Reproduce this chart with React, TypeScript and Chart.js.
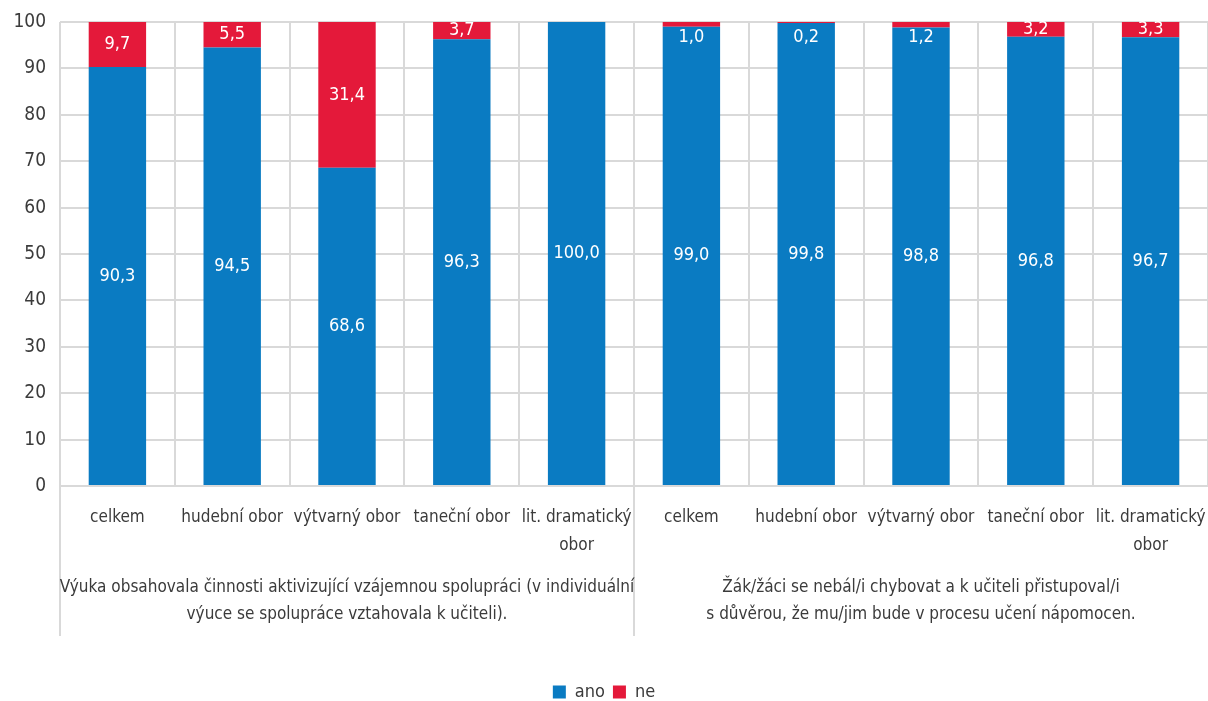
import React, { useEffect, useRef } from "react";
import { Chart, registerables } from "chart.js";

Chart.register(...registerables);

const categories: (string | string[])[] = [
  "celkem",
  "hudební obor",
  "výtvarný obor",
  "taneční obor",
  ["lit. dramatický", "obor"],
  "celkem",
  "hudební obor",
  "výtvarný obor",
  "taneční obor",
  ["lit. dramatický", "obor"],
];

const groupLabels: string[][] = [
  [
    "Výuka obsahovala činnosti aktivizující vzájemnou spolupráci (v individuální",
    "výuce se spolupráce vztahovala k učiteli).",
  ],
  [
    "Žák/žáci se nebál/i chybovat a k učiteli přistupoval/i",
    "s důvěrou, že mu/jim bude v procesu učení nápomocen.",
  ],
];

const anoValues = [90.3, 94.5, 68.6, 96.3, 100.0, 99.0, 99.8, 98.8, 96.8, 96.7];
const neValues = [9.7, 5.5, 31.4, 3.7, 0, 1.0, 0.2, 1.2, 3.2, 3.3];
const seriesNames = ["ano", "ne"];

const FONT = "'Liberation Sans Narrow', 'DejaVu Sans Condensed', 'Roboto Condensed', sans-serif";
const TEXT = "#3b3b3b";
const GRID = "#d9d9d9";
const BLUE = "#0a7bc2";
const RED = "#e4193a";

const fmt = (v: number) => v.toFixed(1).replace(".", ",");

const valueLabels = {
  id: "valueLabels",
  afterDatasetsDraw(chart: any) {
    const ctx = chart.ctx;
    ctx.save();
    ctx.font = `18px ${FONT}`;
    ctx.fillStyle = "#ffffff";
    ctx.textAlign = "center";
    ctx.textBaseline = "middle";
    chart.data.datasets.forEach((ds: any, di: number) => {
      const meta = chart.getDatasetMeta(di);
      meta.data.forEach((bar: any, i: number) => {
        const v = ds.data[i];
        if (!v) return;
        const top = Math.min(bar.y, bar.base);
        const bottom = Math.max(bar.y, bar.base);
        let y = (top + bottom) / 2;
        if (bottom - top < 8) y = top + 15;
        ctx.fillText(fmt(v), bar.x, y);
      });
    });
    ctx.restore();
  },
};

const groupPlugin = {
  id: "groupPlugin",
  afterDraw(chart: any) {
    const ctx = chart.ctx;
    const area = chart.chartArea;
    const bounds = [area.left, (area.left + area.right) / 2, area.right];
    ctx.save();
    ctx.strokeStyle = GRID;
    ctx.lineWidth = 2;
    [bounds[0], bounds[1]].forEach((bx) => {
      ctx.beginPath();
      ctx.moveTo(bx, area.bottom);
      ctx.lineTo(bx, area.bottom + 150);
      ctx.stroke();
    });
    ctx.font = `17px ${FONT}`;
    ctx.fillStyle = TEXT;
    ctx.textAlign = "center";
    ctx.textBaseline = "middle";
    groupLabels.forEach((lines, g) => {
      const cx = (bounds[g] + bounds[g + 1]) / 2;
      lines.forEach((line, li) => {
        ctx.fillText(line, cx, area.bottom + 102 + li * 27);
      });
    });
    ctx.restore();
  },
};

export default function App() {
  const ref = useRef<HTMLCanvasElement | null>(null);
  useEffect(() => {
    if (!ref.current) return;
    const chart = new Chart(ref.current, {
      type: "bar",
      data: {
        labels: categories,
        datasets: [
          {
            label: seriesNames[0],
            data: anoValues,
            backgroundColor: BLUE,
            barPercentage: 0.5,
            categoryPercentage: 1,
          },
          {
            label: seriesNames[1],
            data: neValues,
            backgroundColor: RED,
            barPercentage: 0.5,
            categoryPercentage: 1,
          },
        ],
      },
      options: {
        animation: false,
        responsive: false,
        maintainAspectRatio: false,
        layout: { padding: { top: 22, right: 0, bottom: -10, left: 0 } },
        plugins: {
          legend: {
            position: "bottom",
            labels: {
              boxWidth: 13,
              boxHeight: 13,
              padding: 8,
              color: TEXT,
              font: { family: FONT, size: 18 },
            },
          },
          tooltip: { enabled: false },
        },
        scales: {
          x: {
            stacked: true,
            grid: { color: GRID, lineWidth: 2, drawTicks: false, offset: true },
            border: { color: GRID, width: 2 },
            ticks: {
              color: TEXT,
              font: { family: FONT, size: 17, lineHeight: 1.65 },
              padding: 18,
              maxRotation: 0,
              autoSkip: false,
            },
            afterFit: (s: any) => {
              s.height = 189;
              s.paddingLeft = 0;
              s.paddingRight = 0;
            },
          },
          y: {
            stacked: true,
            min: 0,
            max: 100,
            grid: { color: GRID, lineWidth: 2, drawTicks: false },
            border: { display: false },
            ticks: {
              stepSize: 10,
              color: TEXT,
              padding: 14,
              font: { family: FONT, size: 19 },
            },
            afterFit: (s: any) => {
              s.width = 60;
              s.paddingTop = 0;
              s.paddingBottom = 0;
            },
          },
        },
      },
      plugins: [valueLabels, groupPlugin],
    });
    return () => chart.destroy();
  }, []);
  return (
    <div style={{ position: "absolute", left: 0, top: 0, width: 1208, height: 701, background: "#fff" }}>
      <canvas ref={ref} width={1208} height={701} style={{ width: 1208, height: 701 }} />
    </div>
  );
}
